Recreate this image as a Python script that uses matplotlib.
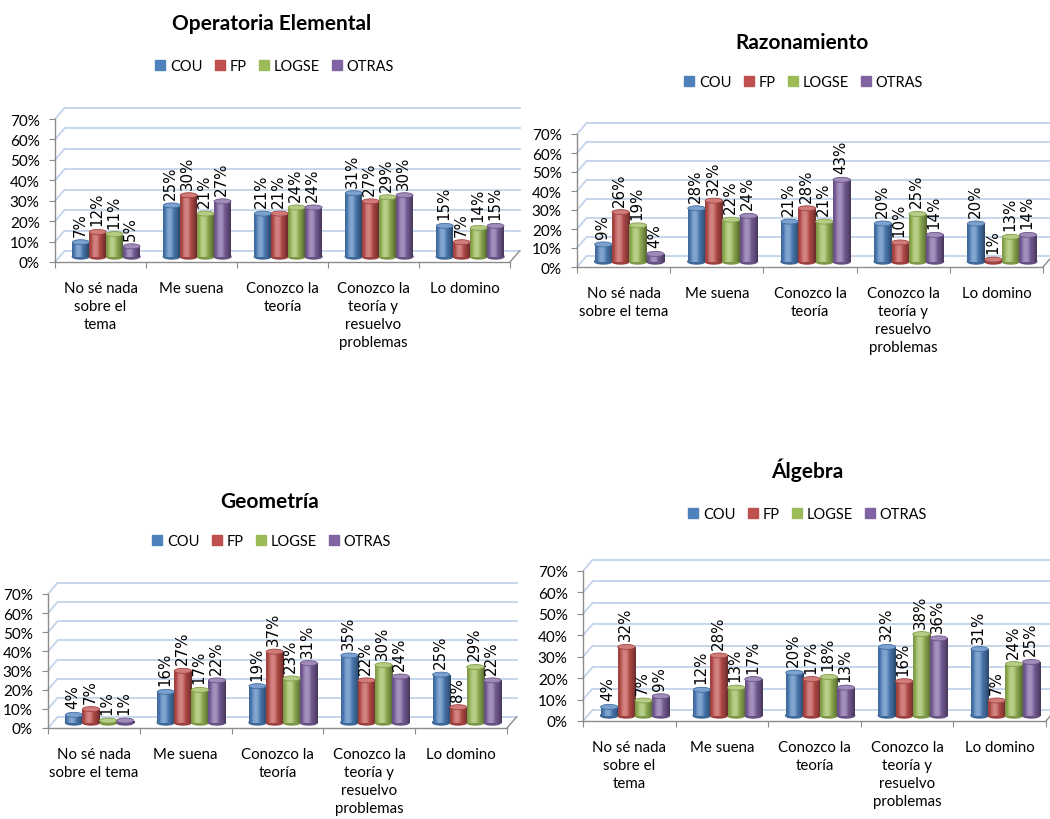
import matplotlib
matplotlib.use("Agg")
import matplotlib.pyplot as plt
import numpy as np
from matplotlib.patches import Ellipse
from matplotlib.lines import Line2D
from matplotlib.colors import to_rgb

plt.rcParams['font.family'] = ['Lato', 'DejaVu Sans']

series = ["COU", "FP", "LOGSE", "OTRAS"]
colores = ['#4F81BD', '#C0504D', '#9BBB59', '#8064A2']

cat_3lin = ["No sé nada\nsobre el\ntema", "Me suena", "Conozco la\nteoría",
            "Conozco la\nteoría y\nresuelvo\nproblemas", "Lo domino"]
cat_2lin = ["No sé nada\nsobre el tema", "Me suena", "Conozco la\nteoría",
            "Conozco la\nteoría y\nresuelvo\nproblemas", "Lo domino"]

# porcentajes por bloque
op_cou = [7, 25, 21, 31, 15]
op_fp = [12, 30, 21, 27, 7]
op_logse = [11, 21, 24, 29, 14]
op_otras = [5, 27, 24, 30, 15]

raz_cou = [9, 28, 21, 20, 20]
raz_fp = [26, 32, 28, 10, 1]
raz_logse = [19, 22, 21, 25, 13]
raz_otras = [4, 24, 43, 14, 14]

geo_cou = [4, 16, 19, 35, 25]
geo_fp = [7, 27, 37, 22, 8]
geo_logse = [1, 17, 23, 30, 29]
geo_otras = [1, 22, 31, 24, 22]

alg_cou = [4, 12, 20, 32, 31]
alg_fp = [32, 28, 17, 16, 7]
alg_logse = [7, 13, 18, 38, 24]
alg_otras = [9, 17, 13, 36, 25]

W, H = 1050, 820
fig = plt.figure(figsize=(W / 100, H / 100), dpi=100)

GRID = '#c3d4ea'
AXIS = '#8c8c8c'


def sombra(base, n=40):
    # degradado horizontal para que la barra parezca un cilindro
    t = np.linspace(0, 1, n)
    k = np.cos((t - 0.38) * np.pi * 0.9)
    b = np.array(to_rgb(base))
    col = b[None, :] * (0.62 + 0.38 * k[:, None])
    brillo = np.clip(k - 0.75, 0, None)[:, None] * 1.2
    col = col * (1 - brillo) + brillo
    return np.clip(col, 0, 1)[None, :, :]


def grafico(caja, titulo, pos_tit, pos_ley, valores, cats):
    l, r, y0, y70 = caja
    ax = fig.add_axes([l / W, 1 - y0 / H, (r - l) / W, (y0 - y70) / H])
    ux = (r - l) / 5
    uy = (y0 - y70) / 70
    dx, dy = 9.5 / ux, 11 / uy

    # pared del fondo y lateral
    for v in range(0, 71, 10):
        ax.plot([dx, 5 + dx], [v + dy, v + dy], color=GRID, lw=1.3, zorder=1, clip_on=False)
        ax.plot([0, dx], [v, v + dy], color=GRID, lw=1.3, zorder=1, clip_on=False)
    ax.plot([5, 5 + dx], [0, dy], color=AXIS, lw=1, zorder=1, clip_on=False)

    bw = 0.186
    cap = 5 / uy
    for j, (vals, c) in enumerate(zip(valores, colores)):
        xs = np.arange(5) + 0.5 + (j - 1.5) * bw + dx / 2 + 0.01
        bars = ax.bar(xs, vals, width=bw, bottom=dy / 2, color=c, zorder=3 + j * 0.01)
        for rect, xc, v in zip(bars, xs, vals):
            ax.add_patch(Ellipse((xc, dy / 2), bw, cap, color=np.array(to_rgb(c)) * 0.8,
                                 zorder=2.9))
            im = ax.imshow(sombra(c), extent=[xc - bw / 2, xc + bw / 2, dy / 2, dy / 2 + v],
                           aspect='auto', zorder=3.1 + j * 0.01, interpolation='bilinear')
            im.set_clip_path(rect)
            tope = np.array(to_rgb(c)) * 0.75 + 0.25
            ax.add_patch(Ellipse((xc, dy / 2 + v), bw, cap, facecolor=tope,
                                 edgecolor=np.array(to_rgb(c)) * 0.85, lw=0.6,
                                 zorder=3.2 + j * 0.01))
            ax.text(xc - 0.01, dy / 2 + v + cap / 2 + 4 / uy, f"{v}%", rotation=90,
                    ha='center', va='bottom', fontsize=10.8, family='DejaVu Sans',
                    color='black', zorder=5)

    ax.set_xlim(0, 5)
    ax.set_ylim(0, 70)
    for s in ['top', 'right']:
        ax.spines[s].set_visible(False)
    for s in ['left', 'bottom']:
        ax.spines[s].set_color(AXIS)
        ax.spines[s].set_linewidth(1)
    ax.set_yticks(range(0, 71, 10))
    ax.set_yticklabels([f"{t}%" for t in range(0, 71, 10)], fontsize=11)
    ax.set_xticks(range(6))
    ax.set_xticklabels([])
    ax.set_xticks(np.arange(5) + 0.5, minor=True)
    ax.set_xticklabels(cats, minor=True, fontsize=10.8, linespacing=1.35, va='top')
    ax.tick_params(axis='y', length=4, color=AXIS, pad=7)
    ax.tick_params(axis='x', which='major', length=4, color=AXIS)
    ax.tick_params(axis='x', which='minor', length=0, pad=14)
    ax.patch.set_visible(False)

    fig.text(pos_tit[0] / W, 1 - pos_tit[1] / H, titulo, ha='center', va='center',
             fontsize=15, fontweight='bold')
    marcas = [Line2D([], [], marker='s', linestyle='none', markersize=6.5, color=c)
              for c in colores]
    ax.legend(handles=marcas, labels=series, loc='center',
              bbox_to_anchor=(pos_ley[0] / W, 1 - pos_ley[1] / H),
              bbox_transform=fig.transFigure, ncol=4, frameon=False, fontsize=10.5,
              handlelength=0.6, handletextpad=0.35, columnspacing=0.9)


grafico((55, 510, 263, 120), "Operatoria Elemental", (272, 24), (275, 67),
        [op_cou, op_fp, op_logse, op_otras], cat_3lin)
grafico((577, 1043, 268, 135), "Razonamiento", (802, 43), (804, 83),
        [raz_cou, raz_fp, raz_logse, raz_otras], cat_2lin)
grafico((48, 507, 729, 595), "Geometría", (270, 502), (272, 542),
        [geo_cou, geo_fp, geo_logse, geo_otras], cat_2lin)
grafico((583, 1046, 722, 572), "Álgebra", (807, 470), (808, 515),
        [alg_cou, alg_fp, alg_logse, alg_otras], cat_3lin)

fig.savefig("out.png", dpi=100)
